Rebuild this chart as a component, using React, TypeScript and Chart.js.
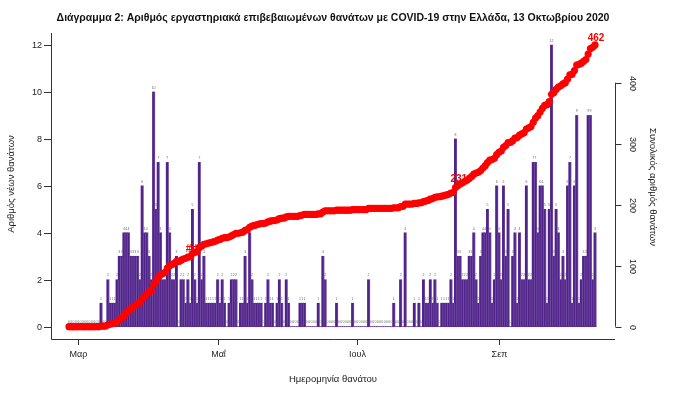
import React, { useEffect, useRef } from "react";
import { Chart, registerables } from "chart.js";

Chart.register(...registerables);

// ---- DATA ----
const startDate = "2020-02-26"; // day index 0
const dailyDeaths = [
  0, 0, 0, 0, 0, 0, 0, 0, 0, 0,
  0, 0, 0, 0, 1, 0, 0, 2, 1, 1,
  1, 2, 3, 3, 4, 4, 4, 3, 3, 3,
  3, 2, 6, 4, 4, 3, 2, 10, 5, 7,
  4, 2, 2, 7, 4, 2, 2, 3, 0, 2,
  2, 1, 2, 1, 5, 2, 1, 7, 2, 3,
  1, 1, 1, 1, 1, 2, 1, 2, 1, 0,
  1, 2, 2, 2, 0, 1, 1, 3, 1, 4,
  2, 1, 1, 1, 1, 0, 1, 2, 1, 1,
  0, 1, 2, 1, 0, 2, 1, 0, 0, 0,
  0, 1, 1, 1, 0, 0, 0, 0, 0, 1,
  0, 3, 2, 0, 0, 0, 0, 1, 0, 0,
  0, 0, 0, 0, 1, 0, 0, 0, 0, 0,
  0, 2, 0, 0, 0, 0, 0, 0, 0, 0,
  0, 0, 1, 0, 0, 2, 0, 4, 0, 0,
  0, 1, 0, 1, 0, 2, 1, 1, 2, 1,
  2, 1, 0, 1, 1, 1, 1, 2, 1, 8,
  3, 3, 2, 2, 2, 3, 3, 4, 2, 1,
  3, 4, 4, 5, 4, 1, 2, 6, 4, 2,
  6, 3, 5, 0, 3, 4, 1, 4, 2, 2,
  6, 2, 2, 7, 7, 4, 6, 6, 5, 1,
  5, 12, 3, 5, 4, 2, 3, 2, 6, 7,
  1, 6, 9, 1, 2, 3, 3, 9, 9, 2,
  4,
];
const monthTickDays = [4, 65, 126, 188];
const monthTickLabels = ["Μαρ", "Μαΐ", "Ιουλ", "Σεπ"];
const leftTicks = [0, 2, 4, 6, 8, 10, 12];
const rightTicks = [0, 100, 200, 300, 400];
const markerDays = [53, 170, 230];
const markerLabels = ["##", "231", "462"];

const titleText =
  "Διάγραμμα 2: Αριθμός εργαστηριακά επιβεβαιωμένων θανάτων με COVID-19 στην Ελλάδα, 13 Οκτωβρίου 2020";
const xTitle = "Ημερομηνία θανάτου";
const yTitle = "Αριθμός νέων θανάτων";
const y2Title = "Συνολικός αριθμός θανάτων";

const FONT = "'Liberation Sans', Arial, sans-serif";
const BAR_COLOR = "#50238a";
const LINE_COLOR = "#ff0000";
const AXIS_COLOR = "#333333";
const TEXT_COLOR = "#222222";

const decorPlugin = {
  id: "decor",
  afterDatasetDraw(chart: any, args: any) {
    if (args.index !== 1) return;
    const ctx = chart.ctx;
    const meta = args.meta;
    ctx.save();
    // faint separators between neighbouring bars
    ctx.strokeStyle = "rgba(255,255,255,0.35)";
    ctx.lineWidth = 0.5;
    meta.data.forEach((el: any, i: number) => {
      if (dailyDeaths[i] <= 0) return;
      const xr = el.x + el.width / 2;
      ctx.beginPath();
      ctx.moveTo(xr, el.y);
      ctx.lineTo(xr, el.base);
      ctx.stroke();
    });
    ctx.font = `3.5px ${FONT}`;
    ctx.fillStyle = "#6a6a6a";
    ctx.textAlign = "center";
    ctx.textBaseline = "bottom";
    meta.data.forEach((el: any, i: number) => {
      ctx.fillText(String(dailyDeaths[i]), el.x, el.y - 2.5);
    });
    ctx.restore();
  },
  afterDraw(chart: any) {
    const ctx = chart.ctx;
    const area = chart.chartArea;
    const xs = chart.scales.x;
    const ys = chart.scales.y;
    const y2 = chart.scales.y2;
    ctx.save();
    ctx.strokeStyle = AXIS_COLOR;
    ctx.lineWidth = 1;
    ctx.fillStyle = TEXT_COLOR;

    // L-shaped frame
    ctx.beginPath();
    ctx.moveTo(area.left + 0.5, area.top);
    ctx.lineTo(area.left + 0.5, area.bottom + 0.5);
    ctx.lineTo(area.right, area.bottom + 0.5);
    ctx.stroke();

    // left ticks
    ctx.font = `9px ${FONT}`;
    ctx.textAlign = "right";
    ctx.textBaseline = "middle";
    leftTicks.forEach((v) => {
      const y = Math.round(ys.getPixelForValue(v)) + 0.5;
      ctx.beginPath();
      ctx.moveTo(area.left - 7, y);
      ctx.lineTo(area.left, y);
      ctx.stroke();
      ctx.fillText(String(v), area.left - 9, y);
    });

    // bottom ticks
    ctx.textAlign = "center";
    ctx.textBaseline = "middle";
    monthTickDays.forEach((d, k) => {
      const x = Math.round(xs.getPixelForValue(d)) + 0.5;
      ctx.beginPath();
      ctx.moveTo(x, area.bottom);
      ctx.lineTo(x, area.bottom + 6);
      ctx.stroke();
      ctx.fillText(monthTickLabels[k], x, area.bottom + 16);
    });

    // right axis
    const rx = area.right + 0.5;
    const r0 = y2.getPixelForValue(rightTicks[0]);
    const r1 = y2.getPixelForValue(rightTicks[rightTicks.length - 1]);
    ctx.beginPath();
    ctx.moveTo(rx, r0);
    ctx.lineTo(rx, r1);
    ctx.stroke();
    rightTicks.forEach((v) => {
      const y = Math.round(y2.getPixelForValue(v)) + 0.5;
      ctx.beginPath();
      ctx.moveTo(rx, y);
      ctx.lineTo(rx + 6, y);
      ctx.stroke();
      ctx.save();
      ctx.translate(rx + 17, y);
      ctx.rotate(Math.PI / 2);
      ctx.textAlign = "center";
      ctx.textBaseline = "middle";
      ctx.fillText(String(v), 0, 0);
      ctx.restore();
    });

    // axis titles
    ctx.font = `9.5px ${FONT}`;
    ctx.textAlign = "center";
    ctx.textBaseline = "middle";
    ctx.fillText(xTitle, (area.left + area.right) / 2, area.bottom + 40);

    ctx.save();
    ctx.translate(653, 187);
    ctx.rotate(Math.PI / 2);
    ctx.fillText(y2Title, 0, 0);
    ctx.restore();

    ctx.save();
    ctx.translate(11, 184);
    ctx.rotate(-Math.PI / 2);
    ctx.fillText(yTitle, 0, 0);
    ctx.restore();

    // chart title
    ctx.font = `bold 10.5px ${FONT}`;
    ctx.fillStyle = "#111";
    ctx.fillText(titleText, 333, 18);

    // cumulative markers
    const lineMeta = chart.getDatasetMeta(0);
    ctx.font = `bold 10px ${FONT}`;
    ctx.fillStyle = LINE_COLOR;
    ctx.textBaseline = "bottom";
    markerDays.forEach((d, k) => {
      const pt = lineMeta.data[d];
      if (!pt) return;
      ctx.fillText(markerLabels[k], pt.x + 1, pt.y - 2);
    });
    ctx.restore();
  },
};

export default function App() {
  const canvasRef = useRef<HTMLCanvasElement | null>(null);

  useEffect(() => {
    document.body.style.margin = "0";
    const canvas = canvasRef.current;
    if (!canvas) return;
    let running = 0;
    const cumulative = dailyDeaths.map((v) => (running += v));
    const chart = new Chart(canvas, {
      type: "bar",
      data: {
        datasets: [
          {
            type: "line",
            label: "Συνολικός αριθμός θανάτων",
            data: cumulative.map((c, i) => ({ x: i, y: c })),
            yAxisID: "y2",
            borderColor: LINE_COLOR,
            backgroundColor: LINE_COLOR,
            borderWidth: 2,
            pointRadius: 3.6,
            pointBorderWidth: 0,
            pointBackgroundColor: LINE_COLOR,
            tension: 0,
            order: 0,
          } as any,
          {
            type: "bar",
            label: "Αριθμός νέων θανάτων",
            data: dailyDeaths.map((v, i) => ({ x: i, y: v })),
            yAxisID: "y",
            backgroundColor: BAR_COLOR,
            borderWidth: 0,
            inflateAmount: 0.35,
            barPercentage: 1,
            categoryPercentage: 1,
            order: 1,
          } as any,
        ],
      },
      options: {
        responsive: false,
        animation: false,
        events: [],
        layout: { padding: { left: 51, right: 65, top: 33, bottom: 59 } },
        plugins: {
          legend: { display: false },
          tooltip: { enabled: false },
          title: { display: false },
        },
        scales: {
          x: { type: "linear", min: -7.87, max: 238.74, display: false, offset: false },
          y: { type: "linear", min: -0.524, max: 12.514, display: false },
          y2: { type: "linear", min: -20.2, max: 481.5, display: false, position: "right" },
        },
      },
      plugins: [decorPlugin],
    });
    return () => chart.destroy();
  }, []);

  return (
    <div style={{ position: "absolute", left: 0, top: 0, width: 680, height: 398, background: "#fff" }}>
      <canvas ref={canvasRef} width={680} height={398} style={{ width: 680, height: 398 }} data-start={startDate} />
    </div>
  );
}
